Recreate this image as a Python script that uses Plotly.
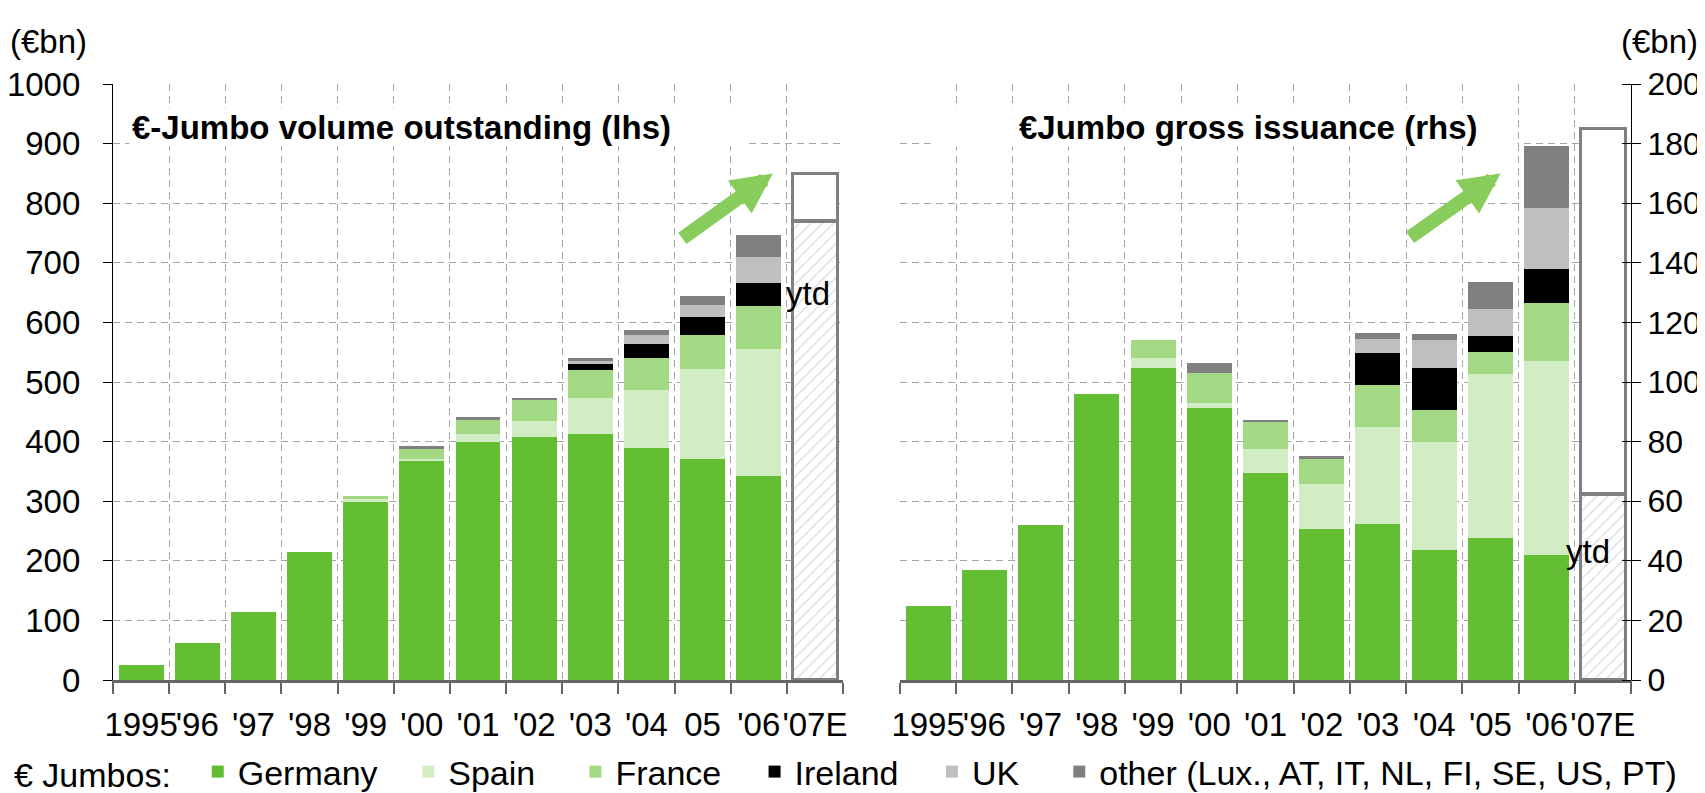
import plotly.graph_objects as go

# ---------------- data ----------------
cats = ["1995", "'96", "'97", "'98", "'99", "'00", "'01", "'02", "'03", "'04", "'05", "'06", "'07E"]
left_ticks = ["1995", "'96", "'97", "'98", "'99", "'00", "'01", "'02", "'03", "'04", "05", "'06", "'07E"]
right_ticks = ["1995", "'96", "'97", "'98", "'99", "'00", "'01", "'02", "'03", "'04", "'05", "'06", "'07E"]

countries = ["Germany", "Spain", "France", "Ireland", "UK",
             "other (Lux., AT, IT, NL, FI, SE, US, PT)"]
colors = ["#63BE33", "#D2ECC4", "#A3D985", "#000000", "#BFBFBF", "#808080"]

# volume outstanding (lhs, EUR bn)
germany_out = [26, 62, 114, 215, 300, 368, 400, 407, 412, 390, 370, 342, None]
spain_out = [0, 0, 0, 0, 3, 3, 13, 28, 61, 96, 151, 214, None]
france_out = [0, 0, 0, 0, 6, 16, 24, 34, 47, 55, 58, 71, None]
ireland_out = [0, 0, 0, 0, 0, 0, 0, 0, 11, 23, 30, 39, None]
uk_out = [0, 0, 0, 0, 0, 0, 0, 0, 4, 15, 21, 43, None]
other_out = [0, 0, 0, 0, 0, 5, 4, 5, 6, 8, 15, 37, None]
ytd_out = 770
est_out = 850

# gross issuance (rhs, EUR bn)
germany_iss = [25, 37, 52, 96, 104.6, 91.2, 69.5, 50.7, 52.3, 43.7, 47.7, 41.8, None]
spain_iss = [0, 0, 0, 0, 3.3, 1.7, 7.9, 15.1, 32.6, 36.0, 54.9, 65.1, None]
france_iss = [0, 0, 0, 0, 6.3, 10.0, 9.2, 8.3, 14.1, 10.8, 7.6, 19.5, None]
ireland_iss = [0, 0, 0, 0, 0, 0, 0, 0, 10.9, 14.1, 5.3, 11.5, None]
uk_iss = [0, 0, 0, 0, 0, 0, 0, 0, 4.6, 9.6, 8.9, 20.5, None]
other_iss = [0, 0, 0, 0, 0, 3.6, 0.4, 1.0, 2.0, 2.0, 9.2, 20.7, None]
ytd_iss = 62.5
est_iss = 185

out_series = [germany_out, spain_out, france_out, ireland_out, uk_out, other_out]
iss_series = [germany_iss, spain_iss, france_iss, ireland_iss, uk_iss, other_iss]

FONT = "Liberation Sans, Arial, sans-serif"
FS = 33
LFS = 34
GRID = "#A6A6A6"
NB, TH = "\u00a0", "\u2009"
legend_pad = [NB * 2 + TH, NB * 3 + TH, NB * 3, NB * 3, NB * 3 + TH, ""]

fig = go.Figure()

for name, col, vals, pad in zip(countries, colors, out_series, legend_pad):
    fig.add_trace(go.Bar(x=cats, y=vals, name=name + pad, marker=dict(color=col, line=dict(width=0)),
                         legendgroup=name, showlegend=True, xaxis="x", yaxis="y"))
for name, col, vals in zip(countries, colors, iss_series):
    fig.add_trace(go.Bar(x=cats, y=vals, name=name, marker=dict(color=col, line=dict(width=0)),
                         legendgroup=name, showlegend=False, xaxis="x2", yaxis="y2"))

hatch = dict(shape="/", fgcolor="#A6A6A6", bgcolor="white", size=8, solidity=0.14)
for xa, ya, ytd, est in [("x", "y", ytd_out, est_out), ("x2", "y2", ytd_iss, est_iss)]:
    fig.add_trace(go.Bar(x=[cats[-1]], y=[ytd], showlegend=False, xaxis=xa, yaxis=ya,
                         marker=dict(color="white", pattern=hatch, line=dict(color="#808080", width=3.5)),
                         hoverinfo="skip"))
    fig.add_trace(go.Bar(x=[cats[-1]], y=[est - ytd], showlegend=False, xaxis=xa, yaxis=ya,
                         marker=dict(color="white", line=dict(color="#808080", width=3.5)),
                         hoverinfo="skip"))

xcommon = dict(type="category", tickson="boundaries", showgrid=True, gridcolor=GRID,
               griddash="7px,5px", gridwidth=1, ticks="outside", ticklen=11, tickcolor="#666666",
               tickwidth=1.5, showline=True, linecolor="#666666", linewidth=2.5, tickangle=0,
               tickfont=dict(size=FS, color="black", family=FONT), ticklabelstandoff=14,
               automargin=False, range=[-0.5, 12.5], fixedrange=True)
ycommon = dict(showgrid=True, gridcolor=GRID, griddash="7px,5px", gridwidth=1, zeroline=False,
               showline=True, linecolor="black", linewidth=1.2, ticks="outside", ticklen=9,
               tickcolor="black", automargin=False, fixedrange=True)

W, H = 1705, 793
fig.update_layout(
    width=W, height=H,
    barmode="stack", bargap=0.2,
    plot_bgcolor="white", paper_bgcolor="white",
    margin=dict(l=0, r=0, t=76, b=112),
    font=dict(family=FONT, size=FS, color="black"),
    xaxis=dict(domain=[105 / W, 835 / W], anchor="y", tickvals=cats, ticktext=left_ticks, **xcommon),
    yaxis=dict(domain=[0, 1], anchor="x", range=[0, 1000], dtick=100, side="left",
               ticklabelstandoff=16, tickfont=dict(size=FS, color="black", family=FONT), **ycommon),
    xaxis2=dict(domain=[892 / W, 1623 / W], anchor="y2", tickvals=cats, ticktext=right_ticks, **xcommon),
    yaxis2=dict(domain=[0, 1], anchor="x2", range=[0, 200], dtick=20, side="right",
                ticklabelstandoff=0, tickfont=dict(size=32, color="black", family=FONT),
                minor=dict(ticks="inside", dtick=20, ticklen=9, tickcolor="black", showgrid=False),
                **ycommon),
    legend=dict(orientation="h", x=4 / W, xanchor="left", y=-0.155, yanchor="middle",
                font=dict(size=LFS, family=FONT), itemwidth=30, traceorder="normal",
                title=dict(text="€ Jumbos:" + NB * 2, side="left", font=dict(size=LFS, family=FONT)),
                bgcolor="rgba(0,0,0,0)", itemclick=False),
    showlegend=True,
)

annotations = [
    dict(text="(€bn)", xref="paper", yref="paper", x=0, y=1.071, xanchor="left",
         yanchor="middle", showarrow=False, font=dict(size=FS)),
    dict(text="(€bn)", xref="paper", yref="paper", x=1692 / W, y=1.071, xanchor="right",
         yanchor="middle", showarrow=False, font=dict(size=FS)),
    # white boxes behind the panel titles (hide the grid)
    dict(text="", xref="paper", yref="paper", x=121 / W, y=0.927, xanchor="left",
         yanchor="middle", showarrow=False, width=618, height=37, bgcolor="white", borderpad=0),
    dict(text="", xref="paper", yref="paper", x=922 / W, y=0.927, xanchor="left",
         yanchor="middle", showarrow=False, width=586, height=37, bgcolor="white", borderpad=0),
    dict(text="<b>€-Jumbo volume outstanding (lhs)</b>", xref="paper", yref="paper",
         x=122 / W, y=0.927, xanchor="left", yanchor="middle", showarrow=False,
         font=dict(size=FS)),
    dict(text="<b>€Jumbo gross issuance (rhs)</b>", xref="paper", yref="paper",
         x=1240 / W, y=0.927, xanchor="center", yanchor="middle", showarrow=False,
         font=dict(size=FS)),
    dict(text="ytd", xref="x", yref="y", x=11.45, y=648, xanchor="left", yanchor="middle",
         showarrow=False, font=dict(size=FS)),
    dict(text="ytd", xref="x2", yref="y2", x=11.3, y=43, xanchor="left", yanchor="middle",
         showarrow=False, font=dict(size=FS)),
    dict(text="", xref="x", yref="y", x=11.25, y=850, ax=-92, ay=66, showarrow=True,
         arrowhead=2, arrowwidth=14, arrowsize=0.58, arrowcolor="#88CC5C", standoff=0),
    dict(text="", xref="x2", yref="y2", x=10.18, y=170, ax=-92, ay=65, showarrow=True,
         arrowhead=2, arrowwidth=14, arrowsize=0.58, arrowcolor="#88CC5C", standoff=0),
]
fig.update_layout(annotations=annotations)

fig.write_html("out.html")
